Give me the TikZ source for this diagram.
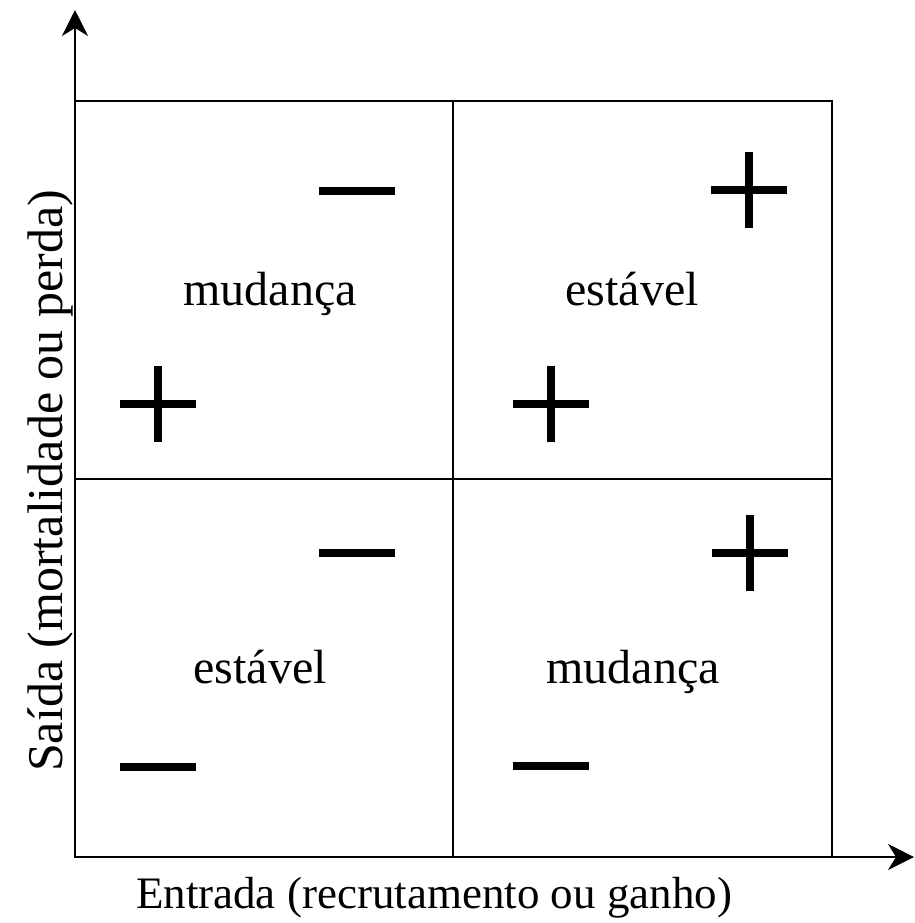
\documentclass[tikz,border=0pt]{standalone}
\usepackage{fontspec}
\setmainfont{Liberation Serif}
\usetikzlibrary{arrows.meta,positioning}

\begin{document}
\begin{tikzpicture}[x=0.5pt,y=-0.5pt,
  cell/.style={font=\fontsize{24}{28}\selectfont,anchor=base,inner sep=0pt},
  sign/.style={line width=3.75pt},
  axis/.style={line width=0.6pt,-{Stealth[length=13pt,width=13pt,inset=4pt]}}]
   \useasboundingbox (0,0) rectangle (915,923);
   \coordinate (O) at (75,857);
   \coordinate (ytip) at (75,10);
   \coordinate (xtip) at (914,857);
   \draw[axis] (O) -- (ytip);
   \draw[axis] (O) -- (xtip);

   \draw[line width=1pt] (75,101) rectangle (832,857);
   \draw[line width=1pt] (453,101) -- (453,857);
   \draw[line width=1pt] (75,479) -- (832,479);

   \foreach \x/\y in {749/190, 158/404, 551/404, 750/553}
      \draw[sign] (\x-38,\y) -- (\x+38,\y) (\x,\y-38) -- (\x,\y+38);
   \foreach \x/\y in {357/191, 357/553, 158/767, 551/766}
      \draw[sign] (\x-38,\y) -- (\x+38,\y);

   \node[cell] (mudUL) at (270,305) {mudança};
   \node[cell] (estUR) at (632,305) {estável};
   \node[cell] (estLL) at (260,683) {estável};
   \node[cell] (mudLR) at (633,683) {mudança};

   \node[anchor=base,inner sep=0pt,font=\fontsize{22.5}{27}\selectfont] (xlab) at (434,908) {Entrada (recrutamento ou ganho)};
   \node[anchor=base,inner sep=0pt,rotate=90,font=\fontsize{25}{30}\selectfont] (ylab) at (62,481) {Saída (mortalidade ou perda)};
\end{tikzpicture}
\end{document}
